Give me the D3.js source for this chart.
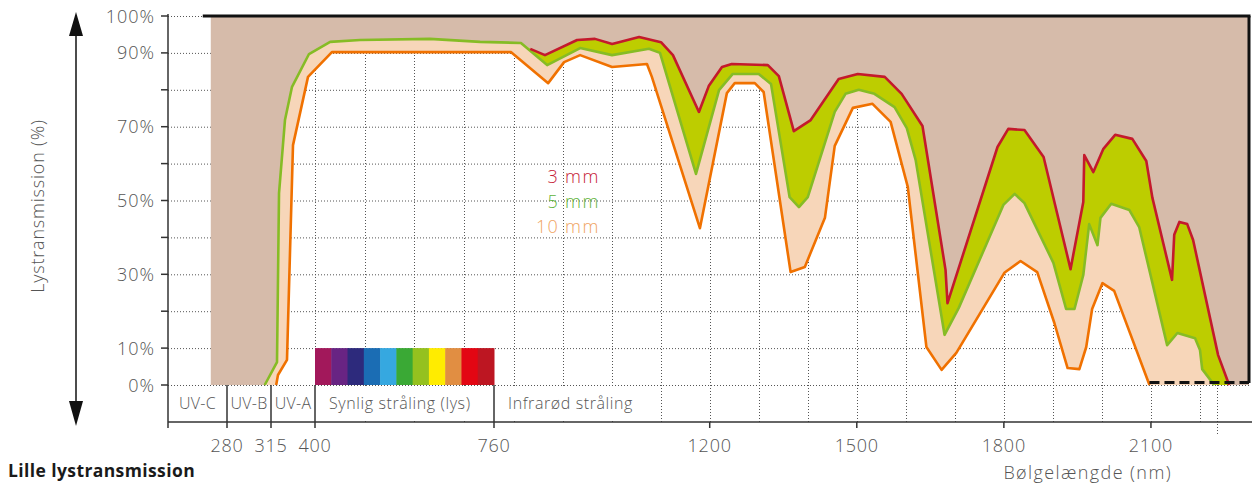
<!DOCTYPE html>
<html>
<head>
<meta charset="utf-8">
<script src="https://cdn.jsdelivr.net/npm/d3@7"></script>
<style>
  body { margin: 0; background: #fff; }
  text { font-family: "Open Sans", "Noto Sans", sans-serif; }
</style>
</head>
<body>
<script>
// transmission curves: [wavelength nm, transmission %]
const glass3mm = [
  [834, 91.1], [864, 89.4], [929.5, 93.5], [966, 93.8], [1001, 92.4], [1056, 94.3], [1100.6, 92.9],
  [1125, 89.4], [1178, 74.0], [1198, 81.0], [1225, 86.2], [1245, 87.0], [1318.6, 86.7], [1341, 83.7],
  [1371.5, 68.8], [1406, 71.8], [1463, 82.9], [1502, 84.3], [1557, 83.5], [1591.5, 78.9], [1634, 70.2],
  [1681, 31.2], [1685, 22.2], [1787, 64.5], [1809, 69.4], [1842, 69.1], [1881, 61.8], [1936, 31.4],
  [1962, 49.6], [1964, 62.3], [1982.5, 57.7], [2003, 64.0], [2027, 67.8], [2062, 66.7], [2090.5, 60.7],
  [2103, 50.7], [2143, 28.5], [2147.5, 40.7], [2158, 44.2], [2174, 43.6], [2186, 39.3], [2237, 8.1],
  [2259.5, 0]
];
const glass5mm = [
  [310, 0], [326.6, 6.2], [330.5, 52.0], [342, 71.8], [355.6, 80.8], [388.4, 89.7], [430.5, 93.0],
  [490.5, 93.5], [631, 93.8], [732, 93.0], [815, 92.7], [868.4, 86.7], [935.7, 91.3], [1000.8, 89.4],
  [1076, 91.1], [1098.6, 90.0], [1172, 57.2], [1219, 79.9], [1247, 84.3], [1300, 84.3], [1325, 81.6],
  [1363, 50.9], [1382, 48.2], [1400, 50.9], [1455, 74.0], [1477, 78.9], [1504, 80.0], [1536, 78.9],
  [1577, 75.3], [1602, 69.6], [1620, 61.0], [1679, 13.6], [1708, 20.9], [1799, 48.8], [1822, 51.8],
  [1842, 49.3], [1901, 33.1], [1927, 20.6], [1944, 20.6], [1962, 29.8], [1974, 43.6], [1991, 37.9],
  [1997, 45.3], [2019, 49.1], [2056, 47.4], [2076, 42.8], [2133, 10.8], [2154, 14.1], [2190, 12.7],
  [2200, 9.5], [2204.5, 4.3], [2229, 0]
];
const glass10mm = [
  [325, 0], [328.5, 2.7], [345.9, 6.8], [357.5, 65.0], [386.5, 83.5], [434, 90.2], [795, 90.2],
  [870.5, 81.8], [903, 87.5], [935.7, 89.4], [1000.8, 86.2], [1072, 87.0], [1082, 83.5], [1180, 42.5],
  [1235, 79.1], [1251, 81.8], [1292, 81.8], [1310, 79.4], [1365, 30.6], [1394, 32.0], [1435, 45.3],
  [1455, 64.8], [1492, 75.1], [1532, 76.2], [1569, 71.3], [1604, 53.7], [1642, 10.3], [1673, 4.1],
  [1703, 8.7], [1801, 30.4], [1834, 33.6], [1868, 30.6], [1903, 16.8], [1930, 4.6], [1954, 4.3],
  [1968, 10.3], [1980, 20.6], [2001, 27.6], [2025, 25.5], [2097, 0]
];

const absorbStart = 258;   // nm where the absorbed (brown) area begins
const rangeEnd = 2300;
const yTickLabels = [100, 90, 70, 50, 30, 10, 0];
const xTickLabels = [280, 315, 400, 760, 1200, 1500, 1800, 2100];
const bandEdges = [280, 315, 400, 760];
const bands = [
  { label: "UV-C", from: 200, to: 280, anchor: "middle" },
  { label: "UV-B", from: 280, to: 315, anchor: "middle" },
  { label: "UV-A", from: 315, to: 400, anchor: "middle" },
  { label: "Synlig stråling (lys)", from: 400, to: 760, anchor: "start" },
  { label: "Infrarød stråling", from: 760, to: 1090, anchor: "start" }
];
const gridNm = [400, 500, 600, 700, 800, 900, 1000, 1100, 1200, 1300, 1400, 1500, 1600, 1700,
  1800, 1900, 2000, 2100, 2200, 2235];
const spectrum = ["#a2185b", "#682483", "#2d2a7c", "#1b6db4", "#36a8e0", "#3aa935", "#95c11f",
  "#ffec00", "#e18e42", "#e30613", "#bd1622"];
const legendItems = [
  { num: "3", color: "#c62036" },
  { num: "5", color: "#5fb33a" },
  { num: "10", color: "#f0a463" }
];

const width = 1259, height = 489;
const axisY = 422;
const grey = "#555";

const svg = d3.select("body").append("svg")
  .attr("width", width)
  .attr("height", height);

const x = d3.scaleLinear()
  .domain([200, 280, 315, 400, 760, rangeEnd])
  .range([168, 227, 271, 315, 494, 1249]);
const y = d3.scaleLinear().domain([0, 100]).range([385, 16]);

const line = d3.line().x(d => x(d[0])).y(d => y(d[1]));
const poly = pts => line(pts) + "Z";

// grid
const grid = svg.append("g").attr("stroke", grey).attr("stroke-width", 1)
  .attr("stroke-dasharray", "1,2");
grid.selectAll(".h").data(d3.range(0, 101, 10)).join("line")
  .attr("x1", x(200)).attr("x2", x(rangeEnd))
  .attr("y1", d => y(d) + 0.5).attr("y2", d => y(d) + 0.5);
grid.selectAll(".v").data(gridNm).join("line")
  .attr("x1", d => Math.round(x(d)) + 0.5).attr("x2", d => Math.round(x(d)) + 0.5)
  .attr("y1", y(100))
  .attr("y2", d => d === 400 ? y(0) : (d === 2235 ? axisY + 12 : axisY));

// upper curve of the 3 mm glass (follows 5 mm where they coincide)
const upper = glass5mm.filter(d => d[0] < glass3mm[0][0]).concat(glass3mm);

// absorbed area
svg.append("path")
  .attr("fill", "#d6bbaa")
  .attr("d", poly([[absorbStart, 100], [rangeEnd, 100], [rangeEnd, 0]]
    .concat(upper.slice().reverse(), [[absorbStart, 0]])));
// between 3 mm and 5 mm
svg.append("path")
  .attr("fill", "#bdcd00")
  .attr("d", poly(upper.concat(glass5mm.slice().reverse())));
// between 5 mm and 10 mm
svg.append("path")
  .attr("fill", "#f7d6b9")
  .attr("d", poly(glass5mm.concat(glass10mm.slice().reverse())));

// curves
[[glass10mm, "#f07100"], [glass5mm, "#86bc25"], [glass3mm, "#c41a2c"]].forEach(([data, c]) => {
  svg.append("path")
    .attr("fill", "none")
    .attr("stroke", c)
    .attr("stroke-width", 2.6)
    .attr("stroke-linejoin", "round")
    .attr("d", line(data));
});

// 100% frame
svg.append("line")
  .attr("x1", x(absorbStart) - 8).attr("x2", x(rangeEnd) + 1.5)
  .attr("y1", y(100)).attr("y2", y(100))
  .attr("stroke", "#111").attr("stroke-width", 3);
svg.append("line")
  .attr("x1", x(rangeEnd)).attr("x2", x(rangeEnd))
  .attr("y1", y(100)).attr("y2", y(0) - 2)
  .attr("stroke", "#111").attr("stroke-width", 3);
svg.append("line")
  .attr("x1", x(glass10mm[glass10mm.length - 1][0])).attr("x2", x(rangeEnd))
  .attr("y1", y(0) - 2.5).attr("y2", y(0) - 2.5)
  .attr("stroke", "#111").attr("stroke-width", 3)
  .attr("stroke-dasharray", "10,5");

// visible spectrum bar
const sx = d3.scaleBand().domain(d3.range(spectrum.length)).range([x(400), x(760)]);
svg.append("g").selectAll("rect").data(spectrum).join("rect")
  .attr("x", (d, i) => sx(i)).attr("width", sx.bandwidth() + 0.5)
  .attr("y", y(10)).attr("height", y(0) - y(10))
  .attr("fill", d => d);

// band labels
const bandG = svg.append("g");
bands.forEach(b => {
  const tx = b.anchor === "middle" ? (x(b.from) + x(b.to)) / 2 : x(b.from) + 14;
  const t = bandG.append("text")
    .attr("x", tx).attr("y", 409)
    .attr("text-anchor", b.anchor)
    .attr("font-size", 16).attr("font-weight", 300)
    .attr("letter-spacing", b.anchor === "middle" ? 0.3 : 0.6)
    .attr("fill", grey)
    .text(b.label);
  if (b.from >= 400) {
    const bb = t.node().getBBox();
    bandG.insert("rect", "text")
      .attr("x", x(b.from) + 2).attr("width", bb.x + bb.width + 10 - x(b.from))
      .attr("y", y(0) + 2).attr("height", axisY - y(0) - 4)
      .attr("fill", "#fff");
  }
});
svg.append("g").selectAll("line").data(bandEdges).join("line")
  .attr("x1", d => x(d)).attr("x2", d => x(d))
  .attr("y1", y(0)).attr("y2", axisY + 6)
  .attr("stroke", "#333").attr("stroke-width", 1.5);

// y axis
const yAxis = svg.append("g");
yAxis.append("line")
  .attr("x1", x(200)).attr("x2", x(200)).attr("y1", 14).attr("y2", axisY + 6)
  .attr("stroke", "#333").attr("stroke-width", 1.5);
yAxis.selectAll(".tick").data(d3.range(0, 101, 10)).join("line")
  .attr("x1", x(200) - 7).attr("x2", x(200))
  .attr("y1", d => y(d)).attr("y2", d => y(d))
  .attr("stroke", "#333").attr("stroke-width", 1.5);
yAxis.selectAll("text").data(yTickLabels).join("text")
  .attr("x", x(200) - 13).attr("y", d => y(d) + 6.5)
  .attr("text-anchor", "end")
  .attr("font-size", 18).attr("font-weight", 300).attr("letter-spacing", 1)
  .attr("fill", grey)
  .text(d => d + "%");

// x axis
const xAxis = svg.append("g");
xAxis.append("line")
  .attr("x1", x(200)).attr("x2", x(rangeEnd) + 3).attr("y1", axisY).attr("y2", axisY)
  .attr("stroke", "#333").attr("stroke-width", 1.5);
xAxis.selectAll("line.t").data(xTickLabels.filter(d => d > 760)).join("line")
  .attr("x1", d => x(d)).attr("x2", d => x(d)).attr("y1", axisY).attr("y2", axisY + 6)
  .attr("stroke", "#333").attr("stroke-width", 1.5);
xAxis.selectAll("text").data(xTickLabels).join("text")
  .attr("x", d => x(d)).attr("y", 452)
  .attr("text-anchor", "middle")
  .attr("font-size", 18).attr("font-weight", 300).attr("letter-spacing", 0.8)
  .attr("fill", grey)
  .text(d => d);

// titles
svg.append("text")
  .attr("x", 1172).attr("y", 479).attr("text-anchor", "end")
  .attr("font-size", 18).attr("font-weight", 300).attr("letter-spacing", 1.4)
  .attr("fill", grey)
  .text("Bølgelængde (nm)");
svg.append("text")
  .attr("x", 8).attr("y", 477)
  .attr("font-size", 17.5).attr("font-weight", 700).attr("letter-spacing", 0.4)
  .attr("fill", "#1a1a1a")
  .text("Lille lystransmission");
svg.append("text")
  .attr("transform", "translate(44,206) rotate(-90)")
  .attr("text-anchor", "middle")
  .attr("font-size", 18).attr("font-weight", 300).attr("letter-spacing", 0.8)
  .attr("fill", grey)
  .text("Lystransmission (%)");

// double arrow
const arrow = svg.append("g").attr("fill", "#111").attr("stroke", "#111");
arrow.append("line").attr("x1", 76).attr("x2", 76).attr("y1", 30).attr("y2", 405)
  .attr("stroke-width", 1.5);
arrow.append("path").attr("d", "M76,12L69,36L83,36Z").attr("stroke", "none");
arrow.append("path").attr("d", "M76,426L69,401L83,401Z").attr("stroke", "none");

// legend
const lg = svg.append("g");
legendItems.forEach((d, i) => {
  const t = lg.append("text")
    .attr("y", 183 + i * 25)
    .attr("font-size", 18).attr("font-weight", 300).attr("fill", d.color);
  t.append("tspan").attr("x", 559 - d.num.length * 11.5).attr("letter-spacing", 1.2).text(d.num);
  t.append("tspan").attr("x", 565).attr("letter-spacing", 1.6).text("mm");
});
</script>
</body>
</html>
